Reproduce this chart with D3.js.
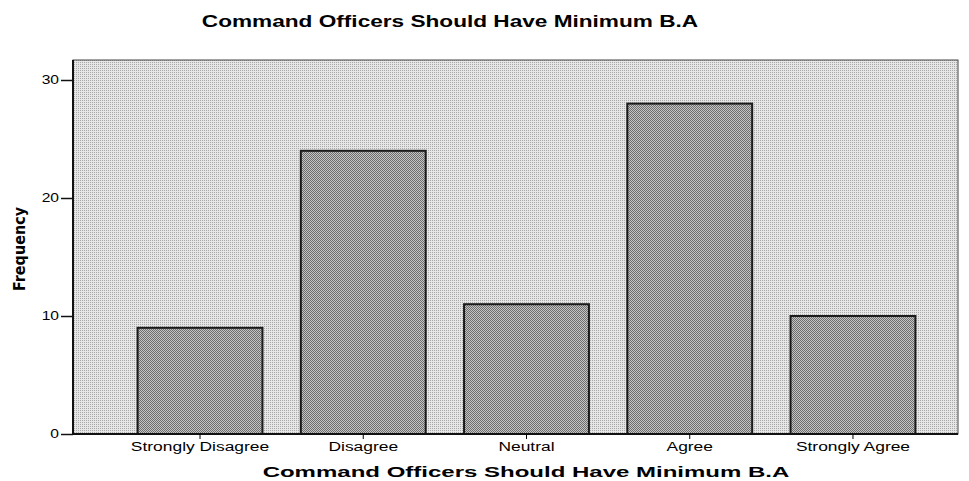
<!DOCTYPE html>
<html>
<head>
<meta charset="utf-8">
<script src="https://cdn.jsdelivr.net/npm/d3@7"></script>
<style>
  body { margin: 0; background: #fff; }
  text { font-family: "Liberation Sans", Arial, sans-serif; fill: #000; }
</style>
</head>
<body>
<svg id="chart" width="969" height="481"></svg>
<script>
var categories = ["Strongly Disagree", "Disagree", "Neutral", "Agree", "Strongly Agree"];
var frequencies = [9, 24, 11, 28, 10];
var yTicks = [0, 10, 20, 30];
var chartTitle = "Command Officers Should Have Minimum B.A";
var xTitle = "Command Officers Should Have Minimum B.A";
var yTitle = "Frequency";

var svg = d3.select("#chart"),
    plot = {left: 73, top: 60, right: 958, bottom: 434};

// stipple patterns, a rough stand-in for the scanned dot screen
var defs = svg.append("defs");
var bg = defs.append("pattern").attr("id", "bgdots")
    .attr("width", 2).attr("height", 2).attr("patternUnits", "userSpaceOnUse");
bg.append("rect").attr("width", 2).attr("height", 2).attr("fill", "#e6e6e6");
bg.append("rect").attr("width", 1).attr("height", 1).attr("fill", "#a9a9a9");
var bd = defs.append("pattern").attr("id", "bardots")
    .attr("width", 2).attr("height", 2).attr("patternUnits", "userSpaceOnUse");
bd.append("rect").attr("width", 2).attr("height", 2).attr("fill", "#c4c4c4");
bd.append("rect").attr("width", 1).attr("height", 1).attr("fill", "#6e6e6e");
bd.append("rect").attr("x", 1).attr("y", 1).attr("width", 1).attr("height", 1).attr("fill", "#6e6e6e");

var x = d3.scaleBand()
    .domain(categories)
    .range([118, 935])
    .paddingInner(0.235)
    .paddingOuter(0.12);

var y = d3.scaleLinear()
    .domain([0, 30])
    .range([434, 80]);

// plot background
svg.append("rect")
    .attr("x", plot.left).attr("y", plot.top)
    .attr("width", plot.right - plot.left).attr("height", plot.bottom - plot.top)
    .attr("fill", "url(#bgdots)")
    .attr("stroke", "#444").attr("stroke-width", 1);

// bars
svg.append("g").selectAll("rect")
    .data(frequencies)
    .enter()
    .append("rect")
    .attr("x", function(d, i) { return x(categories[i]); })
    .attr("y", function(d) { return y(d); })
    .attr("width", x.bandwidth())
    .attr("height", function(d) { return y(0) - y(d); })
    .attr("fill", "url(#bardots)")
    .attr("stroke", "#1a1a1a")
    .attr("stroke-width", 2);

// axes
var yAxis = svg.append("g")
    .attr("transform", "translate(" + plot.left + ",0)")
    .call(d3.axisLeft(y).tickValues(yTicks).tickSize(12).tickPadding(2).tickFormat(d3.format("d")));
yAxis.select(".domain").attr("stroke", "#111").attr("stroke-width", 2)
    .attr("d", "M0," + plot.top + "V" + plot.bottom);
yAxis.selectAll(".tick line").attr("stroke", "#111").attr("stroke-width", 1.5);
yAxis.selectAll("text").attr("font-size", 12).attr("fill", "#000");

var xAxis = svg.append("g")
    .attr("transform", "translate(0," + plot.bottom + ")")
    .call(d3.axisBottom(x).tickSize(5).tickPadding(3));
xAxis.select(".domain").attr("stroke", "#111").attr("stroke-width", 2)
    .attr("d", "M" + plot.left + ",0H" + plot.right);
xAxis.selectAll("text").attr("font-size", 12).attr("fill", "#000");

// the scan uses a wide face, so stretch text horizontally
function stretch(sel, k) {
  sel.each(function() {
    var len = this.getComputedTextLength();
    d3.select(this).attr("textLength", len * k).attr("lengthAdjust", "spacingAndGlyphs");
  });
}
stretch(yAxis.selectAll(".tick text"), 1.3);
stretch(xAxis.selectAll(".tick text"), 1.45);

var t = svg.append("text")
    .attr("x", 450).attr("y", 27)
    .attr("text-anchor", "middle")
    .attr("font-size", 17).attr("font-weight", "bold")
    .text(chartTitle);
stretch(t, 1.33);

var xt = svg.append("text")
    .attr("x", 526).attr("y", 477)
    .attr("text-anchor", "middle")
    .attr("font-size", 15).attr("font-weight", "bold")
    .text(xTitle);
stretch(xt, 1.6);

svg.append("text")
    .attr("transform", "translate(25,249) rotate(-90)")
    .attr("text-anchor", "middle")
    .style("font-family", "'Liberation Sans Narrow', 'DejaVu Sans Condensed', sans-serif")
    .attr("font-size", 16).attr("font-weight", "bold")
    .text(yTitle);
</script>
</body>
</html>
